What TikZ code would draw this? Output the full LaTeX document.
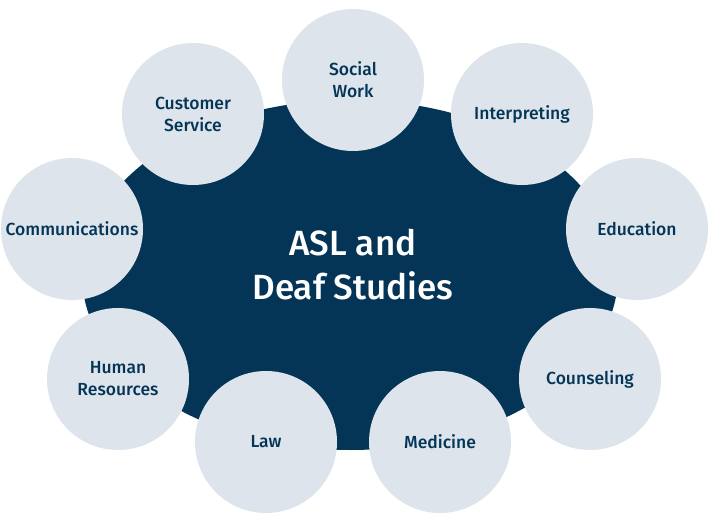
\documentclass[tikz,border=0pt]{standalone}
\usepackage{fontspec}
\setmainfont{Fira Sans}
\newfontfamily\mediumfont{Fira Sans Medium}
\usepackage{tikz}
\definecolor{navy}{HTML}{043557}
\definecolor{pale}{HTML}{DDE4EB}

\begin{document}
\begin{tikzpicture}[x = 1pt, y = -1pt,
  career/.style = {circle, fill = pale, minimum size = 142pt, inner sep = 0pt,
    align = center, text = navy, font = \mediumfont\fontsize{17.5}{22}\selectfont}]
\useasboundingbox (0,0) rectangle (709,521);
\fill [navy] (350,275) ellipse (268pt and 175pt);
\node [text = white, align = center, font = \mediumfont\fontsize{35}{44}\selectfont] (hub) at (353,265) {ASL and\\Deaf Studies};
\node [career] (social) at (353,80) {Social\\Work};
\node [career] (customer) at (193,114) {Customer\\Service};
\node [career] (interp) at (522,114) {Interpreting};
\node [career] (comm) at (72,229) {Communications};
\node [career] (edu) at (637,229) {Education};
\node [career] (hr) at (118,379) {Human\\Resources};
\node [career] (couns) at (590,379) {Counseling};
\node [career] (law) at (266,442) {Law};
\node [career] (med) at (440,442) {Medicine};
\end{tikzpicture}
\end{document}
